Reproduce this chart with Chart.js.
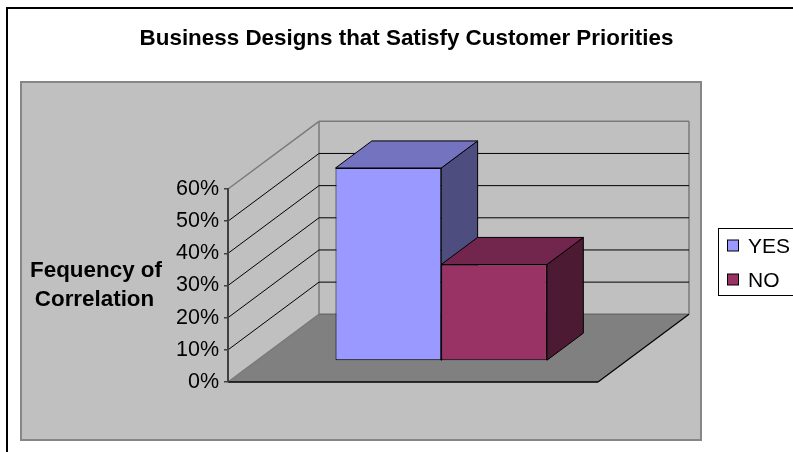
<!DOCTYPE html>
<html>
<head>
<meta charset="utf-8">
<title>Business Designs that Satisfy Customer Priorities</title>
<script src="https://cdn.jsdelivr.net/npm/chart.js@4.4.1/dist/chart.umd.min.js"></script>
<style>
  html, body { margin: 0; padding: 0; background: #fff; }
</style>
</head>
<body>
<canvas id="chart" width="793" height="452"></canvas>
<script>
// Chart data
const categories = [''];
const seriesNames = ['YES', 'NO'];
const yesValues = [60];
const noValues = [30];
const tickValues = [0, 10, 20, 30, 40, 50, 60];
const chartTitle = 'Business Designs that Satisfy Customer Priorities';
const axisTitle = ['Fequency of', 'Correlation'];

// Colours: front face, top face (a bit darker), side face (darkest)
const frontColors = ['#9999FF', '#993366'];
const topColors = ['#7373BF', '#73264D'];
const sideColors = ['#4D4D80', '#4D1A33'];

const FONT = '"Liberation Sans", Arial, sans-serif';

// 3D look: how far back the walls go, and where the bars sit in that depth
const DEPTH_X = 91;
const DEPTH_Y = -67.7;
const BAR_START = 0.31;
const BAR_DEPTH = 0.4;

function line(ctx, x1, y1, x2, y2, color, width) {
  ctx.beginPath();
  ctx.moveTo(x1, y1);
  ctx.lineTo(x2, y2);
  ctx.strokeStyle = color;
  ctx.lineWidth = width;
  ctx.stroke();
}

function poly(ctx, pts, fill) {
  ctx.beginPath();
  ctx.moveTo(pts[0][0], pts[0][1]);
  for (let i = 1; i < pts.length; i++) ctx.lineTo(pts[i][0], pts[i][1]);
  ctx.closePath();
  ctx.fillStyle = fill;
  ctx.fill();
  ctx.strokeStyle = '#000';
  ctx.lineWidth = 1;
  ctx.stroke();
}

// Draws the frame, plot area, walls, floor, title and legend
const excelFrame = {
  id: 'excelFrame',
  beforeDraw(chart) {
    const ctx = chart.ctx;
    const area = chart.chartArea;
    const y = chart.scales.y;
    ctx.save();

    // outer border of the chart object
    ctx.strokeStyle = '#000';
    ctx.lineWidth = 2;
    ctx.strokeRect(7, 8, chart.width + 20, chart.height + 20);

    // grey plot area
    ctx.fillStyle = '#C0C0C0';
    ctx.fillRect(21, 82, 680, 358);
    ctx.strokeStyle = '#868686';
    ctx.lineWidth = 2;
    ctx.strokeRect(21, 82, 680, 358);

    const L = area.left, R = area.right;
    const y0 = y.getPixelForValue(tickValues[0]);
    const yTop = y.getPixelForValue(tickValues[tickValues.length - 1]);

    // floor
    ctx.beginPath();
    ctx.moveTo(L, y0);
    ctx.lineTo(R, y0);
    ctx.lineTo(R + DEPTH_X, y0 + DEPTH_Y);
    ctx.lineTo(L + DEPTH_X, y0 + DEPTH_Y);
    ctx.closePath();
    ctx.fillStyle = '#808080';
    ctx.fill();

    // wall edges
    const edge = '#7a7a7a';
    line(ctx, L, y0, L + DEPTH_X, y0 + DEPTH_Y, edge, 1.5);
    line(ctx, L + DEPTH_X, y0 + DEPTH_Y, R + DEPTH_X, y0 + DEPTH_Y, '#6a6a6a', 1.5);
    line(ctx, L, yTop, L + DEPTH_X, yTop + DEPTH_Y, edge, 1.5);
    line(ctx, L + DEPTH_X, yTop + DEPTH_Y, R + DEPTH_X, yTop + DEPTH_Y, edge, 1.5);
    line(ctx, L + DEPTH_X, yTop + DEPTH_Y, L + DEPTH_X, y0 + DEPTH_Y, edge, 1.5);
    line(ctx, R + DEPTH_X, yTop + DEPTH_Y, R + DEPTH_X, y0 + DEPTH_Y, edge, 1.5);

    // front and right edge of the floor
    line(ctx, L, y0, R, y0, '#000', 1.5);
    line(ctx, R, y0, R + DEPTH_X, y0 + DEPTH_Y, '#000', 1.2);

    // gridlines on side wall and back wall
    tickValues.slice(1, -1).forEach(v => {
      const py = y.getPixelForValue(v);
      line(ctx, L, py, L + DEPTH_X, py + DEPTH_Y, '#000', 1);
      line(ctx, L + DEPTH_X, py + DEPTH_Y, R + DEPTH_X, py + DEPTH_Y, '#000', 1);
    });

    // chart title
    ctx.fillStyle = '#000';
    ctx.textAlign = 'center';
    ctx.textBaseline = 'alphabetic';
    ctx.font = 'bold 22.4px ' + FONT;
    ctx.fillText(chartTitle, 406.5, 45);

    // value axis title (horizontal, two lines)
    ctx.font = 'bold 22.4px ' + FONT;
    ctx.fillText(axisTitle[0], 96, 277);
    ctx.fillText(axisTitle[1], 94.5, 305.5);

    // legend
    ctx.strokeStyle = '#000';
    ctx.lineWidth = 1;
    ctx.strokeRect(718.5, 228.5, 100, 67);
    ctx.font = '21px ' + FONT;
    ctx.textAlign = 'left';
    chart.data.datasets.forEach((ds, i) => {
      const cy = 245.5 + i * 34;
      ctx.fillStyle = ds.backgroundColor;
      ctx.fillRect(727.5, cy - 5.5, 11, 11);
      ctx.strokeRect(727.5, cy - 5.5, 11, 11);
      ctx.fillStyle = '#000';
      ctx.fillText(ds.label, 748, cy + 7.8);
    });
    ctx.restore();
  },

  // tops and sides of the bars go behind the front faces
  beforeDatasetsDraw(chart) {
    const ctx = chart.ctx;
    const dx = BAR_START * DEPTH_X, dy = BAR_START * DEPTH_Y;
    const bx = BAR_DEPTH * DEPTH_X, by = BAR_DEPTH * DEPTH_Y;
    ctx.save();
    ctx.lineJoin = 'miter';
    chart.data.datasets.forEach((ds, i) => {
      const meta = chart.getDatasetMeta(i);
      meta.data.forEach(bar => {
        const p = bar.getProps(['x', 'y', 'base', 'width'], true);
        const x1 = p.x - p.width / 2 + dx, x2 = p.x + p.width / 2 + dx;
        const top = p.y + dy, bottom = p.base + dy;
        poly(ctx, [[x2, top], [x2, bottom], [x2 + bx, bottom + by], [x2 + bx, top + by]], sideColors[i]);
        poly(ctx, [[x1, top], [x2, top], [x2 + bx, top + by], [x1 + bx, top + by]], topColors[i]);
      });
    });
    ctx.restore();
    // front faces are drawn by Chart.js, shifted into the depth
    ctx.save();
    ctx.translate(dx, dy);
  },
  afterDatasetsDraw(chart) {
    chart.ctx.restore();
  }
};

new Chart(document.getElementById('chart'), {
  type: 'bar',
  data: {
    labels: categories,
    datasets: [
      {
        label: seriesNames[0],
        data: yesValues,
        backgroundColor: frontColors[0],
        borderColor: '#000',
        borderWidth: 1,
        borderSkipped: false,
        categoryPercentage: 2 / 3.5,
        barPercentage: 1
      },
      {
        label: seriesNames[1],
        data: noValues,
        backgroundColor: frontColors[1],
        borderColor: '#000',
        borderWidth: 1,
        borderSkipped: false,
        categoryPercentage: 2 / 3.5,
        barPercentage: 1
      }
    ]
  },
  options: {
    responsive: false,
    animation: false,
    devicePixelRatio: 1,
    layout: { padding: { left: 0, top: 189, right: 195, bottom: 70 } },
    plugins: {
      legend: { display: false },
      title: { display: false },
      tooltip: { enabled: false }
    },
    scales: {
      x: { display: false },
      y: {
        min: tickValues[0],
        max: tickValues[tickValues.length - 1],
        afterFit: scale => { scale.width = 228; },
        afterBuildTicks: scale => { scale.ticks = tickValues.map(v => ({ value: v })); },
        grid: { drawOnChartArea: false, drawTicks: true, tickLength: 4, color: '#404040', lineWidth: 1.5 },
        border: { display: true, color: '#404040', width: 2 },
        ticks: {
          padding: 5,
          color: '#000',
          font: { family: FONT, size: 21.5 },
          callback: v => v + '%'
        }
      }
    }
  },
  plugins: [excelFrame]
});
</script>
</body>
</html>
